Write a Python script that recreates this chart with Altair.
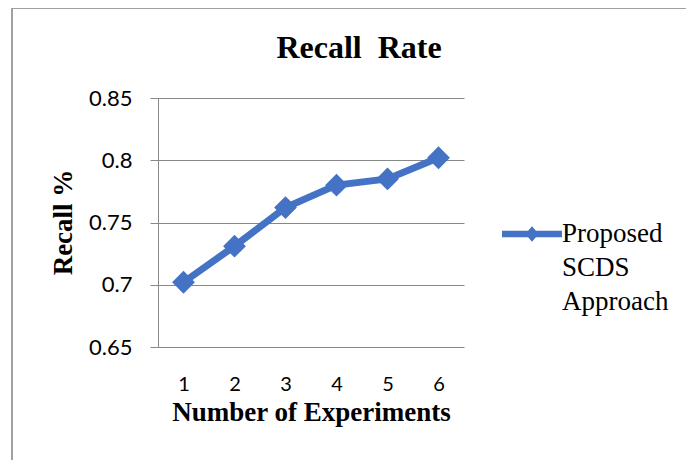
import altair as alt
import pandas as pd

experiments = [1, 2, 3, 4, 5, 6]
recall = [0.702, 0.731, 0.762, 0.780, 0.785, 0.802]
series = "Proposed SCDS Approach"
y_ticks = [0.65, 0.7, 0.75, 0.8, 0.85]

df = pd.DataFrame({"exp": experiments, "recall": recall, "series": [series] * len(experiments)})

BLUE = "#4472C4"
GRID = "#888888"

color = alt.Color(
    "series:N",
    scale=alt.Scale(range=[BLUE]),
    legend=alt.Legend(
        title=None,
        orient="none",
        legendX=344,
        legendY=106,
        padding=0,
        symbolType="M-1,-0.11L-0.13,-0.11L0,-0.26L0.13,-0.11L1,-0.11L1,0.11L0.13,0.11L0,0.26L-0.13,0.11L-1,0.11Z",
        symbolSize=3600,
        symbolFillColor=BLUE,
        symbolStrokeWidth=0,
        labelFont="Liberation Serif",
        labelFontSize=27,
        labelColor="black",
        labelOffset=0,
        labelLimit=300,
        labelExpr="['Proposed', 'SCDS', 'Approach']",
    ),
)

x = alt.X(
    "exp:O",
    scale=alt.Scale(paddingInner=0, paddingOuter=0),
    axis=alt.Axis(
        title="Number of Experiments",
        labelAngle=0,
        ticks=False,
        tickSize=0,
        domain=False,
        labelFont="Lato",
        labelFontSize=20,
        labelColor="black",
        labelBaseline="alphabetic",
        labelPadding=43,
        titleFont="Liberation Serif",
        titleFontWeight="bold",
        titleFontSize=27,
        titleColor="black",
        titleBaseline="alphabetic",
        titleY=73,
    ),
)
y = alt.Y(
    "recall:Q",
    scale=alt.Scale(domain=[0.65, 0.85], nice=False, zero=False),
    axis=alt.Axis(
        title="Recall %",
        values=y_ticks,
        format="~g",
        tickSize=8,
        tickColor=GRID,
        domainColor=GRID,
        gridColor=GRID,
        grid=True,
        labelFont="Lato",
        labelFontSize=22,
        labelColor="black",
        labelPadding=18,
        titleFont="Liberation Serif",
        titleFontWeight="bold",
        titleFontSize=27,
        titleColor="black",
        titleAngle=270,
        titleBaseline="alphabetic",
        titleX=-87,
        titleY=124,
    ),
)

base = alt.Chart(df)
line = base.mark_line(strokeWidth=7).encode(x=x, y=y, color=color)
pts = base.mark_point(shape="diamond", filled=True, size=520, opacity=1).encode(x=x, y=y, color=color)

border_top = alt.Chart(df).mark_rule(color="#a0a0a0", strokeWidth=1).encode(
    x=alt.value(-146), x2=alt.value(540), y=alt.value(-90)
)
border_left = alt.Chart(df).mark_rule(color="#a0a0a0", strokeWidth=1).encode(
    x=alt.value(-146), y=alt.value(-90), y2=alt.value(380)
)

chart = (
    alt.layer(border_top, border_left, line, pts)
    .properties(
        width=306,
        height=249,
        padding={"left": 150, "top": 90, "right": 222, "bottom": 113},
        autosize=alt.AutoSizeParams(type="none"),
        title=alt.TitleParams(
            "Recall\u00a0\u00a0Rate",
            font="Liberation Serif",
            fontWeight="bold",
            fontSize=32,
            color="black",
            anchor="middle",
            frame="group",
            baseline="alphabetic",
            dx=48,
            dy=32,
            offset=-50,
        ),
    )
    .configure(style={"guide-label": {"lineHeight": 34}})
    .configure_view(stroke=None)
)

chart.save("out.html", embed_options={"renderer": "svg", "actions": False})
